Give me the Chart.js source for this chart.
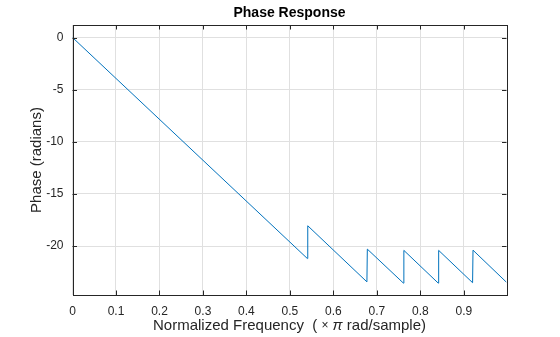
<!DOCTYPE html>
<html>
<head>
<meta charset="utf-8">
<title>Phase Response</title>
<script src="https://cdn.jsdelivr.net/npm/chart.js@4.4.1/dist/chart.umd.min.js"></script>
<style>
  html, body { margin: 0; padding: 0; background: #ffffff; }
  #wrap { width: 560px; height: 337px; }
</style>
</head>
<body>
<div id="wrap"><canvas id="phaseChart" width="560" height="337"></canvas></div>
<script>
// phase curve vertices (normalized frequency, radians) - wraps by pi at each zero
const freq = [0, 0.540, 0.541, 0.677, 0.678, 0.761, 0.762, 0.841, 0.842, 0.920, 0.921, 0.998];
const phase = [0, -21.20, -18.06, -23.44, -20.30, -23.56, -20.42, -23.56, -20.42, -23.52, -20.40, -23.48];

const xTicks = [0, 0.1, 0.2, 0.3, 0.4, 0.5, 0.6, 0.7, 0.8, 0.9];
const yTicks = [-20, -15, -10, -5, 0];
const xRange = [0, 0.998];
const yRange = [-24.7, 1.2];

const FONT = "'Liberation Sans', Arial, Helvetica, sans-serif";
const AXIS_COLOR = '#262626';

// draws text pieces in a row, centred on cx, each with its own font
function drawRun(ctx, parts, cx, cy) {
  const widths = parts.map((p) => { ctx.font = p.font; return ctx.measureText(p.text).width; });
  let x = cx - widths.reduce((s, w) => s + w, 0) / 2;
  ctx.textAlign = 'left';
  parts.forEach((p, i) => {
    ctx.font = p.font;
    ctx.fillText(p.text, x, cy);
    x += widths[i];
  });
}

// box around the axes plus short inward tick marks on all four sides
const boxAndTicks = {
  id: 'boxAndTicks',
  afterDatasetsDraw(chart) {
    const { ctx, chartArea: a, scales } = chart;
    const len = 4.5;
    ctx.save();
    ctx.strokeStyle = AXIS_COLOR;
    ctx.lineWidth = 1;
    ctx.beginPath();
    scales.x.ticks.forEach((t) => {
      const px = Math.round(scales.x.getPixelForValue(t.value)) + 0.5;
      ctx.moveTo(px, a.bottom); ctx.lineTo(px, a.bottom - len);
      ctx.moveTo(px, a.top); ctx.lineTo(px, a.top + len);
    });
    scales.y.ticks.forEach((t) => {
      const py = Math.round(scales.y.getPixelForValue(t.value)) + 0.5;
      ctx.moveTo(a.left, py); ctx.lineTo(a.left + len, py);
      ctx.moveTo(a.right, py); ctx.lineTo(a.right - len, py);
    });
    ctx.stroke();
    ctx.strokeRect(Math.round(a.left) + 0.5, Math.round(a.top) + 0.5,
      Math.round(a.right - a.left), Math.round(a.bottom - a.top));
    ctx.restore();
  },
  afterDraw(chart) {
    const { ctx, chartArea: a } = chart;
    const cx = (a.left + a.right) / 2;
    const cy = (a.top + a.bottom) / 2;
    ctx.save();
    ctx.textAlign = 'center';
    ctx.textBaseline = 'middle';

    ctx.fillStyle = '#000000';
    ctx.font = 'bold 14px ' + FONT;
    ctx.fillText('Phase Response', cx, 13);

    ctx.fillStyle = AXIS_COLOR;
    const normal = '15px ' + FONT;
    drawRun(ctx, [
      { text: 'Normalized Frequency  ( ', font: normal },
      { text: '\u00d7', font: '12px ' + FONT },
      { text: ' ', font: normal },
      { text: '\u03c0', font: 'italic 15px ' + FONT },
      { text: ' rad/sample)', font: normal },
    ], cx, 326);

    ctx.font = normal;
    ctx.textAlign = 'center';
    ctx.translate(37, cy);
    ctx.rotate(-Math.PI / 2);
    ctx.fillText('Phase (radians)', 0, 0);
    ctx.restore();
  },
};

const ctx = document.getElementById('phaseChart').getContext('2d');
new Chart(ctx, {
  type: 'line',
  data: {
    datasets: [{
      data: freq.map((f, i) => ({ x: f, y: phase[i] })),
      borderColor: '#0072BD',
      borderWidth: 1,
      pointRadius: 0,
      tension: 0,
      fill: false,
    }],
  },
  options: {
    responsive: false,
    animation: false,
    events: [],
    layout: { padding: { top: 25, right: 53.5, bottom: 0, left: 0 } },
    plugins: {
      legend: { display: false },
      tooltip: { enabled: false },
      title: { display: false },
    },
    scales: {
      x: {
        type: 'linear',
        min: xRange[0],
        max: xRange[1],
        afterFit: (s) => { s.height = 42; },
        afterBuildTicks: (s) => { s.ticks = xTicks.map((v) => ({ value: v })); },
        ticks: {
          callback: (v) => String(v),
          color: AXIS_COLOR,
          font: { family: FONT, size: 12 },
          padding: 9,
          maxRotation: 0,
          autoSkip: false,
        },
        grid: { color: '#e0e0e0', drawTicks: false },
        border: { display: false },
      },
      y: {
        type: 'linear',
        min: yRange[0],
        max: yRange[1],
        afterFit: (s) => { s.width = 72.5; },
        afterBuildTicks: (s) => { s.ticks = yTicks.map((v) => ({ value: v })); },
        ticks: {
          callback: (v) => String(v),
          color: AXIS_COLOR,
          font: { family: FONT, size: 12 },
          padding: 9,
          autoSkip: false,
        },
        grid: { color: '#e0e0e0', drawTicks: false },
        border: { display: false },
      },
    },
  },
  plugins: [boxAndTicks],
});
</script>
</body>
</html>
